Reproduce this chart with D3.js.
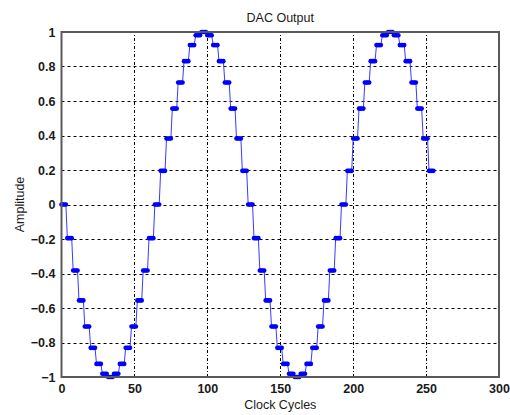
<!DOCTYPE html>
<html>
<head>
<meta charset="utf-8">
<script src="https://cdn.jsdelivr.net/npm/d3@7"></script>
<style>
  html, body { margin: 0; padding: 0; background: #fff; }
  svg { display: block; }
  text { font-family: "Liberation Sans", Arial, sans-serif; fill: #1a1a1a; }
</style>
</head>
<body>
<svg id="chart" width="510" height="415"></svg>
<script>
// DAC output levels, one per sample; each level is held for a number of clock cycles
const dacLevels = [
  0, -0.195, -0.383, -0.556, -0.707, -0.831, -0.924, -0.981,
  -1, -0.981, -0.924, -0.831, -0.707, -0.556, -0.383, -0.195,
  0, 0.195, 0.383, 0.556, 0.707, 0.831, 0.924, 0.981,
  1, 0.981, 0.924, 0.831, 0.707, 0.556, 0.383, 0.195,
  0, -0.195, -0.383, -0.556, -0.707, -0.831, -0.924, -0.981,
  -1, -0.981, -0.924, -0.831, -0.707, -0.556, -0.383, -0.195,
  0, 0.195, 0.383, 0.556, 0.707, 0.831, 0.924, 0.981,
  1, 0.981, 0.924, 0.831, 0.707, 0.556, 0.383, 0.195
];
const cyclesPerLevel = 4;
const xTicks = [0, 50, 100, 150, 200, 250, 300];
const yTicks = [-1, -0.8, -0.6, -0.4, -0.2, 0, 0.2, 0.4, 0.6, 0.8, 1];
const xDomain = [0, 300];
const yDomain = [-1, 1];

// Clock-by-clock samples: each level repeated for its hold time
const samples = [];
dacLevels.forEach((v, k) => {
  for (let j = 0; j < cyclesPerLevel; j++) samples.push({ t: k * cyclesPerLevel + j, v });
});

const margin = { left: 61.5, right: 11, top: 32, bottom: 38 };
const W = 510, H = 415;
const svg = d3.select("#chart");

const x = d3.scaleLinear().domain(xDomain).range([margin.left, W - margin.right]);
const y = d3.scaleLinear().domain(yDomain).range([H - margin.bottom, margin.top]);

// Grid lines
const grid = svg.append("g").attr("stroke", "#000").attr("stroke-width", 1);
grid.selectAll("line.h").data(yTicks.filter(d => d > yDomain[0] && d < yDomain[1]))
  .join("line").attr("class", "h")
  .attr("x1", x(xDomain[0])).attr("x2", x(xDomain[1]))
  .attr("y1", d => Math.round(y(d)) + 0.5).attr("y2", d => Math.round(y(d)) + 0.5)
  .attr("stroke-dasharray", "3,3");
grid.selectAll("line.v").data(xTicks.filter(d => d > xDomain[0] && d < xDomain[1]))
  .join("line").attr("class", "v")
  .attr("y1", y(yDomain[0])).attr("y2", y(yDomain[1]))
  .attr("x1", d => Math.round(x(d)) + 0.5).attr("x2", d => Math.round(x(d)) + 0.5)
  .attr("stroke-dasharray", "3,2,1,2");

// Signal trace
const line = d3.line().x(d => x(d.t)).y(d => y(d.v));
svg.append("path").datum(samples)
  .attr("fill", "none").attr("stroke", "#3a3aff").attr("stroke-width", 1)
  .attr("d", line);

// Sample markers
svg.append("g").attr("fill", "#0000ff")
  .selectAll("circle").data(samples).join("circle")
  .attr("cx", d => x(d.t)).attr("cy", d => y(d.v)).attr("r", 2.3);

// Axes
const xAxis = d3.axisBottom(x).tickValues(xTicks).tickSize(0).tickPadding(7);
const yAxis = d3.axisLeft(y).tickValues(yTicks).tickSize(0).tickPadding(6)
  .tickFormat(d => d3.format("")(d));

const gx = svg.append("g").attr("transform", `translate(0,${y(yDomain[0])})`).call(xAxis);
const gy = svg.append("g").attr("transform", `translate(${x(xDomain[0])},0)`).call(yAxis);
[gx, gy].forEach(g => {
  g.select(".domain").remove();
  g.selectAll("text").attr("font-size", 12.5).attr("font-weight", "bold")
    .attr("font-family", "Liberation Sans, Arial, sans-serif").attr("fill", "#222");
});

// Plot frame
svg.append("rect")
  .attr("x", x(xDomain[0])).attr("y", y(yDomain[1]))
  .attr("width", x(xDomain[1]) - x(xDomain[0]))
  .attr("height", y(yDomain[0]) - y(yDomain[1]))
  .attr("fill", "none").attr("stroke", "#5a5a5a").attr("stroke-width", 2);

// Titles
const cx = (x(xDomain[0]) + x(xDomain[1])) / 2;
svg.append("text").attr("x", cx).attr("y", 22).attr("text-anchor", "middle")
  .attr("font-size", 12.5).text("DAC Output");
svg.append("text").attr("x", cx).attr("y", 409).attr("text-anchor", "middle")
  .attr("font-size", 12.5).text("Clock Cycles");
svg.append("text")
  .attr("transform", `translate(24,${(y(yDomain[0]) + y(yDomain[1])) / 2}) rotate(-90)`)
  .attr("text-anchor", "middle").attr("font-size", 12.5).text("Amplitude");
</script>
</body>
</html>
